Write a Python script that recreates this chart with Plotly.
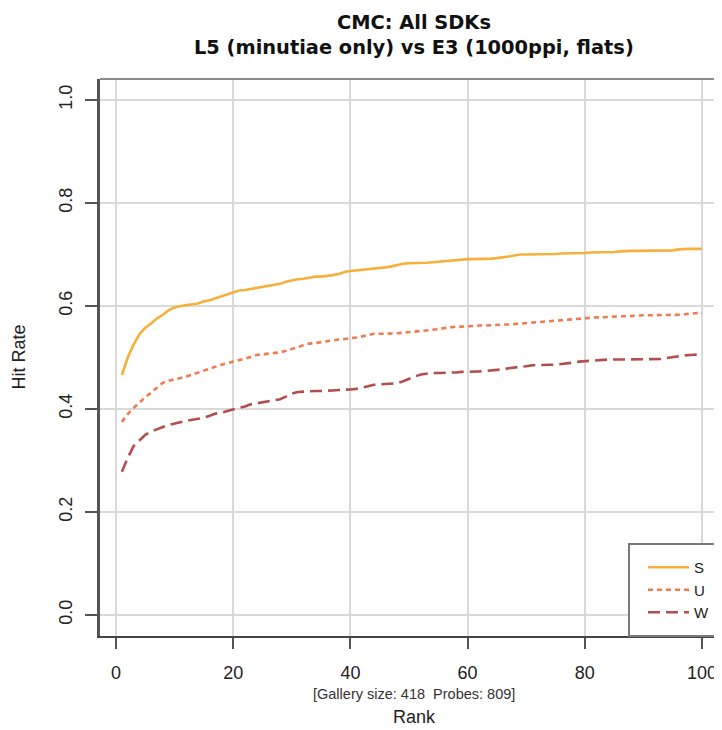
import plotly.graph_objects as go

ranks = list(range(1, 101))

hit_s = [0.466, 0.500, 0.525, 0.545, 0.558, 0.566, 0.576, 0.583, 0.592, 0.597,
         0.600, 0.602, 0.603, 0.605, 0.609, 0.611, 0.615, 0.619, 0.623, 0.627,
         0.630, 0.631, 0.633, 0.636, 0.637, 0.639, 0.641, 0.643, 0.647, 0.650,
         0.652, 0.653, 0.655, 0.657, 0.657, 0.658, 0.660, 0.662, 0.666, 0.668,
         0.669, 0.670, 0.671, 0.672, 0.673, 0.675, 0.677, 0.680, 0.682, 0.683,
         0.683, 0.684, 0.684, 0.685, 0.686, 0.687, 0.689, 0.690, 0.691, 0.691,
         0.691, 0.691, 0.691, 0.692, 0.693, 0.694, 0.696, 0.698, 0.700, 0.700,
         0.700, 0.700, 0.701, 0.701, 0.701, 0.702, 0.702, 0.703, 0.703, 0.703,
         0.704, 0.704, 0.704, 0.704, 0.705, 0.706, 0.707, 0.707, 0.707, 0.707,
         0.707, 0.707, 0.707, 0.707, 0.708, 0.710, 0.711, 0.711, 0.711, 0.711]

hit_u = [0.375, 0.390, 0.402, 0.413, 0.423, 0.432, 0.442, 0.451, 0.455, 0.457,
         0.460, 0.463, 0.467, 0.470, 0.474, 0.478, 0.482, 0.486, 0.489, 0.492,
         0.494, 0.497, 0.501, 0.505, 0.506, 0.507, 0.508, 0.510, 0.513, 0.516,
         0.520, 0.524, 0.527, 0.528, 0.530, 0.532, 0.534, 0.535, 0.536, 0.537,
         0.539, 0.541, 0.544, 0.546, 0.546, 0.546, 0.546, 0.547, 0.548, 0.549,
         0.550, 0.551, 0.552, 0.553, 0.555, 0.557, 0.559, 0.560, 0.560, 0.561,
         0.561, 0.562, 0.562, 0.563, 0.564, 0.564, 0.564, 0.565, 0.566, 0.567,
         0.568, 0.569, 0.570, 0.571, 0.572, 0.573, 0.574, 0.575, 0.576, 0.577,
         0.577, 0.578, 0.578, 0.579, 0.579, 0.580, 0.580, 0.581, 0.581, 0.582,
         0.582, 0.582, 0.583, 0.583, 0.583, 0.583, 0.584, 0.585, 0.586, 0.587]

hit_w = [0.278, 0.305, 0.328, 0.340, 0.350, 0.356, 0.361, 0.365, 0.369, 0.372,
         0.374, 0.377, 0.379, 0.381, 0.383, 0.387, 0.391, 0.393, 0.396, 0.398,
         0.402, 0.405, 0.409, 0.411, 0.413, 0.414, 0.416, 0.419, 0.424, 0.430,
         0.433, 0.434, 0.434, 0.435, 0.435, 0.435, 0.436, 0.437, 0.437, 0.438,
         0.439, 0.441, 0.444, 0.447, 0.448, 0.449, 0.449, 0.450, 0.454, 0.459,
         0.463, 0.467, 0.469, 0.470, 0.470, 0.470, 0.471, 0.471, 0.472, 0.472,
         0.472, 0.473, 0.474, 0.475, 0.475, 0.477, 0.479, 0.481, 0.482, 0.483,
         0.485, 0.485, 0.486, 0.486, 0.486, 0.487, 0.488, 0.490, 0.492, 0.493,
         0.494, 0.494, 0.495, 0.496, 0.496, 0.496, 0.496, 0.496, 0.496, 0.496,
         0.496, 0.497, 0.497, 0.499, 0.501, 0.503, 0.504, 0.505, 0.505, 0.506]

series_names = ["S", "U", "W"]
series_colors = ["#F5B13C", "#EF7B4F", "#B24F4E"]
series_dash = ["solid", "5px,4px", "12px,6px"]
x_ticks = [0, 20, 40, 60, 80, 100]
y_ticks = [0.0, 0.2, 0.4, 0.6, 0.8, 1.0]
y_tick_text = ["0.0", "0.2", "0.4", "0.6", "0.8", "1.0"]

title_line1 = "CMC: All SDKs"
title_line2 = "L5 (minutiae only) vs E3 (1000ppi, flats)"
subtitle = "[Gallery size: 418  Probes: 809]"
x_label = "Rank"
y_label = "Hit Rate"

fig = go.Figure()
for name, vals, col, dash in zip(series_names, [hit_s, hit_u, hit_w], series_colors, series_dash):
    fig.add_trace(go.Scatter(x=ranks, y=vals, mode="lines", name=name,
                             line=dict(color=col, width=2.6, dash=dash)))

axis_font = dict(family="Liberation Sans, Arial, sans-serif", size=18, color="#222222")

# the page body has an 8px margin, so the figure is offset by 8px
fig.update_layout(
    width=714, height=722,
    margin=dict(l=92, r=0, t=71, b=94, autoexpand=False),
    paper_bgcolor="white", plot_bgcolor="white",
    showlegend=True,
    legend=dict(x=0.873, xanchor="left", y=0.0826, yanchor="middle",
                bgcolor="rgba(0,0,0,0)", borderwidth=0,
                font=dict(family="Liberation Sans, Arial, sans-serif", size=15, color="#222222"),
                itemwidth=41, tracegroupgap=0),
    xaxis=dict(range=[-2.73, 103.41], tickvals=x_ticks, ticks="outside", ticklen=11,
               tickwidth=2, tickcolor="#555555", showgrid=True, gridcolor="#d9d9d9",
               gridwidth=1.6, zeroline=False, showline=True, linecolor="#444444",
               linewidth=2, tickfont=axis_font, ticklabelstandoff=8),
    yaxis=dict(range=[-0.0408, 1.0408], tickvals=y_ticks, ticktext=y_tick_text,
               ticks="outside", ticklen=12, tickwidth=2, tickcolor="#555555",
               showgrid=True, gridcolor="#d9d9d9", gridwidth=1.6, zeroline=False,
               showline=True, linecolor="#555555", linewidth=2.5, tickangle=-90,
               tickfont=axis_font, ticklabelstandoff=6),
)

# top border of the plot box
fig.add_shape(type="line", xref="paper", yref="paper", x0=0, x1=1.02, y0=1, y1=1,
              line=dict(color="#8c8c8c", width=2))
# legend frame (its right side runs past the page edge, as in the reference)
fig.add_shape(type="rect", xref="paper", yref="paper", x0=0.8505, x1=1.03, y0=0, y1=0.1652,
              line=dict(color="#7a7a7a", width=2), fillcolor="white", layer="above")

title_font = dict(family="DejaVu Sans, sans-serif", size=19.4, color="#111111")
fig.add_annotation(text="<b>" + title_line1 + "</b>", xref="paper", yref="paper",
                   x=0.505, y=1.102, xanchor="center", yanchor="middle", showarrow=False,
                   font=title_font)
fig.add_annotation(text="<b>" + title_line2 + "</b>", xref="paper", yref="paper",
                   x=0.505, y=1.057, xanchor="center", yanchor="middle", showarrow=False,
                   font=title_font)
fig.add_annotation(text=subtitle, xref="paper", yref="paper", x=0.505, y=-0.104,
                   xanchor="center", yanchor="middle", showarrow=False,
                   font=dict(family="Liberation Sans, Arial, sans-serif", size=14.5, color="#333333"))
fig.add_annotation(text=x_label, xref="paper", yref="paper", x=0.505, y=-0.146,
                   xanchor="center", yanchor="middle", showarrow=False,
                   font=dict(family="Liberation Sans, Arial, sans-serif", size=18, color="#222222"))
fig.add_annotation(text=y_label, xref="paper", yref="paper", x=-0.1318, y=0.5,
                   xanchor="center", yanchor="middle", showarrow=False, textangle=-90,
                   font=dict(family="Liberation Sans, Arial, sans-serif", size=18, color="#222222"))

fig.write_html("out.html")
